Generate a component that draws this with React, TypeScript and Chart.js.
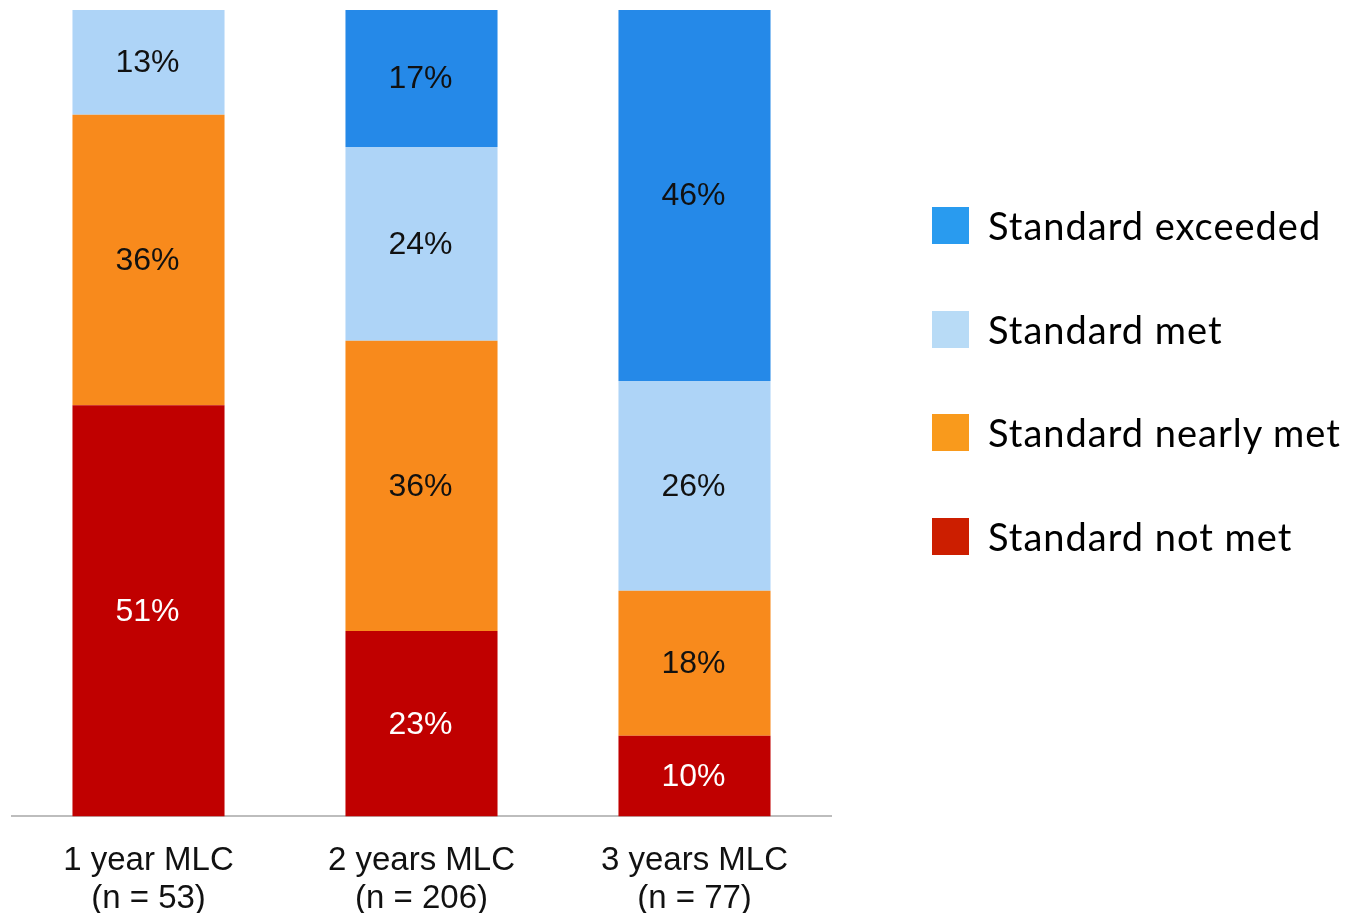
import React, { useEffect, useRef } from "react";
import { Chart, registerables } from "chart.js";

Chart.register(...registerables);

const categories: string[][] = [
  ["1 year MLC", "(n = 53)"],
  ["2 years MLC", "(n = 206)"],
  ["3 years MLC", "(n = 77)"],
];

const notMet = [51, 23, 10];
const nearlyMet = [36, 36, 18];
const met = [13, 24, 26];
const exceeded = [0, 17, 46];

const seriesNames = ["Standard not met", "Standard nearly met", "Standard met", "Standard exceeded"];
const barColors = ["#C00000", "#F88A1C", "#AED4F7", "#2589E8"];
const legendColors = ["#CC1E00", "#F99A1C", "#B8DBF6", "#299BEF"];
const labelColors = ["#FFFFFF", "#111111", "#111111", "#111111"];

// Writes the percentage in the middle of every non-empty segment
const segmentLabels = {
  id: "segmentLabels",
  afterDatasetsDraw(chart: Chart) {
    const { ctx } = chart;
    ctx.save();
    ctx.font = "32px 'Liberation Sans', Arial, sans-serif";
    ctx.textAlign = "center";
    ctx.textBaseline = "middle";
    chart.data.datasets.forEach((ds, di) => {
      const meta = chart.getDatasetMeta(di);
      meta.data.forEach((el: any, i: number) => {
        const v = ds.data[i] as number;
        if (!v) return;
        const { x, y, base } = el.getProps(["x", "y", "base"], true);
        ctx.fillStyle = labelColors[di];
        ctx.fillText(`${v}%`, x - 1, (y + base) / 2 + 1);
      });
    });
    ctx.restore();
  },
};

export default function App() {
  const canvasRef = useRef<HTMLCanvasElement>(null);

  useEffect(() => {
    if (!canvasRef.current) return;
    const values = [notMet, nearlyMet, met, exceeded];
    const chart = new Chart(canvasRef.current, {
      type: "bar",
      data: {
        labels: categories,
        datasets: values.map((d, i) => ({
          label: seriesNames[i],
          data: d,
          backgroundColor: barColors[i],
          borderWidth: 0,
          barPercentage: 0.557,
          categoryPercentage: 1,
        })),
      },
      options: {
        responsive: false,
        animation: false,
        layout: { padding: { left: 12, right: 517, top: 10, bottom: -30 } },
        plugins: {
          legend: { display: false },
          tooltip: { enabled: false },
        },
        scales: {
          x: {
            stacked: true,
            grid: { display: false, drawTicks: false },
            border: { display: true, color: "#BDBDBD", width: 2 },
            ticks: {
              color: "#111111",
              padding: 25,
              font: { family: "'Liberation Sans', Arial, sans-serif", size: 33, lineHeight: 1.16 },
            },
          },
          y: {
            stacked: true,
            display: false,
            min: 0,
            max: 100,
          },
        },
      },
      plugins: [segmentLabels],
    });
    return () => chart.destroy();
  }, []);

  const legendOrder = [3, 2, 1, 0];
  const legendTops = [207, 311, 414, 518];

  return (
    <div style={{ position: "absolute", left: 0, top: 0, width: 1348, height: 913, background: "#fff", overflow: "hidden" }}>
      <canvas ref={canvasRef} width={1348} height={913} style={{ display: "block" }} />
      {legendOrder.map((si, k) => (
        <div
          key={si}
          style={{
            position: "absolute",
            left: 932,
            top: legendTops[k],
            height: 37,
            display: "flex",
            alignItems: "center",
            whiteSpace: "nowrap",
          }}
        >
          <div style={{ width: 37, height: 37, background: legendColors[si] }} />
          <span
            style={{
              marginLeft: 19,
              fontFamily: "Lato, 'Open Sans', sans-serif",
              fontSize: 38,
              letterSpacing: 1,
              color: "#000",
              lineHeight: "37px",
            }}
          >
            {seriesNames[si]}
          </span>
        </div>
      ))}
    </div>
  );
}
